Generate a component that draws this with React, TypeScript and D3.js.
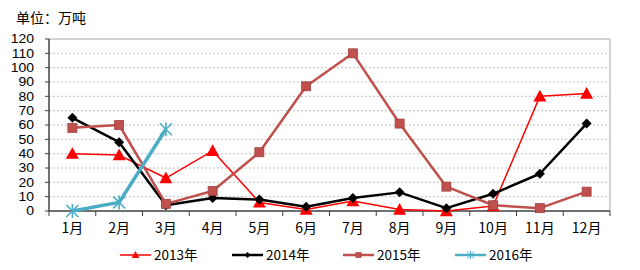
import React from "react";
import * as d3 from "d3";

const months = ["1月", "2月", "3月", "4月", "5月", "6月", "7月", "8月", "9月", "10月", "11月", "12月"];
const yTicks = [0, 10, 20, 30, 40, 50, 60, 70, 80, 90, 100, 110, 120];
const s2013 = [40, 39, 23, 42, 6, 1, 7, 1, 0, 3.5, 80, 82];
const s2014 = [65, 48, 4, 9, 8, 3, 9, 13, 2, 12, 26, 61];
const s2015 = [58, 60, 5, 14, 41, 87, 110, 61, 17, 4, 2, 13.5];
const s2016 = [0, 6, 57];
const seriesNames = ["2013年", "2014年", "2015年", "2016年"];

const W = 640, H = 270;
const left = 49, right = 610, top = 39, bottom = 211;

type Marker = "tri" | "diamond" | "square" | "star";

function MarkerShape({ type, x, y, color }: { type: Marker; x: number; y: number; color: string }) {
  if (type === "tri") {
    const s = 6.5;
    return <path d={`M${x},${y - s}L${x + s},${y + s * 0.8}L${x - s},${y + s * 0.8}Z`} fill={color} />;
  }
  if (type === "diamond") {
    const s = 5;
    return <path d={`M${x},${y - s}L${x + s},${y}L${x},${y + s}L${x - s},${y}Z`} fill={color} />;
  }
  if (type === "square") {
    const s = 4.5;
    return <rect x={x - s} y={y - s} width={s * 2} height={s * 2} fill={color} stroke="#A0403D" strokeWidth={0.8} />;
  }
  const s = 6;
  return (
    <g stroke={color} strokeWidth={1.6}>
      <line x1={x - s} y1={y - s} x2={x + s} y2={y + s} />
      <line x1={x - s} y1={y + s} x2={x + s} y2={y - s} />
      <line x1={x} y1={y - s - 1} x2={x} y2={y + s + 1} />
    </g>
  );
}

export default function App() {
  const x = d3.scaleBand<string>().domain(months).range([left, right]);
  const y = d3.scaleLinear().domain([0, 120]).range([bottom, top]);
  const cx = (i: number) => (x(months[i]) as number) + x.bandwidth() / 2;
  const line = d3.line<number>().x((_, i) => cx(i)).y((d) => y(d));

  const series = [
    { name: seriesNames[0], data: s2013, color: "#FF0000", width: 1.5, marker: "tri" as Marker },
    { name: seriesNames[1], data: s2014, color: "#000000", width: 2.5, marker: "diamond" as Marker },
    { name: seriesNames[2], data: s2015, color: "#C0504D", width: 2.5, marker: "square" as Marker },
    { name: seriesNames[3], data: s2016, color: "#4BACC6", width: 3.5, marker: "star" as Marker },
  ];
  const legendX = [120, 232, 343, 455];
  const font = "Liberation Sans, Arial, sans-serif";
  const boundaries = d3.range(months.length + 1).map((i) => left + i * x.bandwidth());

  return (
    <svg width={W} height={H} style={{ position: "absolute", left: 0, top: 0 }} fontFamily={font}>
      <rect width={W} height={H} fill="#fff" />
      <text x={16} y={23} fontSize={14} fontFamily="Noto Sans CJK SC, sans-serif" fill="#000">单位：万吨</text>
      {yTicks.map((t) => (
        <g key={t}>
          {t > 0 && t < 120 && (
            <line x1={left} x2={right} y1={y(t)} y2={y(t)} stroke="#BFBFBF" strokeWidth={1} strokeDasharray="2,2" />
          )}
          <line x1={left - 4} x2={left} y1={y(t)} y2={y(t)} stroke="#404040" />
          <text x={34} y={y(t)} dy="0.36em" textAnchor="end" fontSize={12.5} fill="#000" transform={`translate(34,0) scale(1.12,1) translate(-34,0)`}>{t}</text>
        </g>
      ))}
      <line x1={left} x2={right} y1={top} y2={top} stroke="#A6A6A6" />
      <line x1={right} x2={right} y1={top} y2={bottom} stroke="#A6A6A6" />
      <line x1={left} x2={left} y1={top} y2={bottom} stroke="#404040" strokeWidth={1.5} />
      <line x1={left} x2={right} y1={bottom} y2={bottom} stroke="#404040" strokeWidth={1.5} />
      {boundaries.map((b, i) => (
        <line key={i} x1={b} x2={b} y1={bottom} y2={bottom + 5} stroke="#404040" />
      ))}
      {months.map((m, i) => (
        <text key={m} x={cx(i)} y={233} textAnchor="middle" fontSize={14} fontFamily="Noto Sans CJK SC, sans-serif" fill="#000">{m}</text>
      ))}
      {series.map((s) => (
        <g key={s.name}>
          <path d={line(s.data) as string} fill="none" stroke={s.color} strokeWidth={s.width} strokeLinejoin="round" />
          {s.data.map((d, i) => (
            <MarkerShape key={i} type={s.marker} x={cx(i)} y={y(d)} color={s.color} />
          ))}
        </g>
      ))}
      {series.map((s, k) => (
        <g key={s.name}>
          <line x1={legendX[k]} x2={legendX[k] + 31} y1={255} y2={255} stroke={s.color} strokeWidth={s.width > 2 ? 2.5 : 1.5} />
          <g transform={`translate(${legendX[k] + 15.5},255) scale(0.6)`}>
            <MarkerShape type={s.marker} x={0} y={0} color={s.color} />
          </g>
          <text x={legendX[k] + 34} y={255} dy="0.36em" fontSize={13.5} fontFamily="Noto Sans CJK SC, sans-serif" fill="#000">{s.name}</text>
        </g>
      ))}
    </svg>
  );
}
